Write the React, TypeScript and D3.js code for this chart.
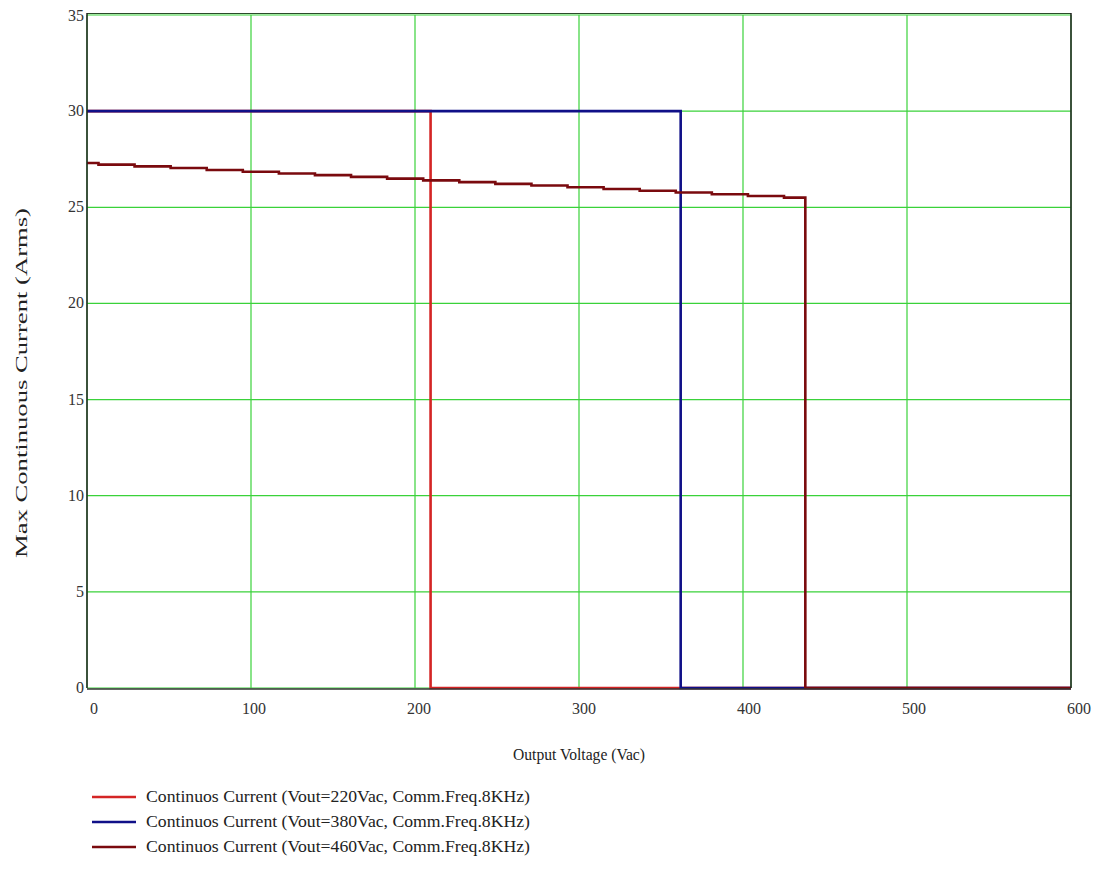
import React from 'react'
import * as d3 from 'd3'

// series: step points [voltage, current]
const redX = [0, 209.5, 209.5, 600]
const redY = [30, 30, 0, 0]
const blueX = [0, 362, 362, 600]
const blueY = [30, 30, 0, 0]
const darkX = [0, 7, 29, 51, 73, 95, 117, 139, 161, 183, 205, 227, 249, 271, 293, 315, 337, 359, 381, 403, 425, 438, 438, 600]
const darkY = [27.3, 27.22, 27.13, 27.04, 26.94, 26.85, 26.76, 26.67, 26.58, 26.49, 26.4, 26.31, 26.22, 26.13, 26.04, 25.95, 25.86, 25.77, 25.68, 25.59, 25.5, 25.5, 0, 0]

const xTicks = [0, 100, 200, 300, 400, 500, 600]
const yTicks = [0, 5, 10, 15, 20, 25, 30, 35]

const legendLabels = [
    'Continuos Current (Vout=220Vac, Comm.Freq.8KHz)',
    'Continuos Current (Vout=380Vac, Comm.Freq.8KHz)',
    'Continuos Current (Vout=460Vac, Comm.Freq.8KHz)',
]
const colors = ['#d42525', '#101088', '#7a0a0e']

const App = () => {
    const x = d3.scaleLinear().domain([0, 600]).range([87, 1071])
    const y = d3.scaleLinear().domain([0, 35]).range([688, 15])
    const line = d3.line<[number, number]>()
        .x(d => x(d[0]))
        .y(d => y(d[1]))
        .curve(d3.curveStepAfter)

    const series = [
        redX.map((v, i) => [v, redY[i]] as [number, number]),
        blueX.map((v, i) => [v, blueY[i]] as [number, number]),
        darkX.map((v, i) => [v, darkY[i]] as [number, number]),
    ]

    return (
        <svg width={1102} height={870} style={{ position: 'absolute', left: 0, top: 0, background: '#fff' }}
            fontFamily="'Liberation Serif', 'Times New Roman', serif">
            {/* grid */}
            {xTicks.map(t => (
                <line key={'gx' + t} x1={x(t)} x2={x(t)} y1={y(0)} y2={y(35)} stroke='#3ad23a' strokeWidth={1.2} />
            ))}
            {yTicks.map(t => (
                <line key={'gy' + t} x1={x(0)} x2={x(600)} y1={y(t)} y2={y(t)} stroke='#3ad23a' strokeWidth={1.2} />
            ))}
            {/* series */}
            {series.map((s, i) => (
                <path key={i} d={line(s) || ''} fill='none' stroke={colors[i]} strokeWidth={2.6} />
            ))}
            {/* frame */}
            <line x1={x(0)} x2={x(600)} y1={y(35) - 1.5} y2={y(35) - 1.5} stroke='#2a4a2a' strokeWidth={1.2} />
            <line x1={x(0)} x2={x(0)} y1={y(35) - 2} y2={y(0)} stroke='#222' strokeWidth={1.5} />
            <line x1={x(600)} x2={x(600)} y1={y(35) - 2} y2={y(0)} stroke='#222' strokeWidth={1.5} />
            <line x1={x(0)} x2={x(600)} y1={y(0) + 1} y2={y(0) + 1} stroke='#333' strokeWidth={1.5} />
            {/* tick labels */}
            {yTicks.map(t => (
                <text key={'ty' + t} x={x(0) - 3} y={y(t) + (t === 35 ? 6 : 5)} textAnchor='end' fontSize={16} fill='#333'>{t}</text>
            ))}
            {xTicks.map(t => (
                <text key={'tx' + t} x={x(t) + (t === 0 ? 7 : t / 100 + 2)} y={714} textAnchor='middle' fontSize={16} fill='#333'>{t}</text>
            ))}
            {/* axis titles */}
            <text x={579} y={760} textAnchor='middle' fontSize={16} fill='#222' textLength={132} lengthAdjust='spacingAndGlyphs'>Output Voltage (Vac)</text>
            <text transform={`translate(27,383) rotate(-90)`} textAnchor='middle' fontSize={17} fill='#222'
                textLength={350} lengthAdjust='spacingAndGlyphs'>Max Continuous Current (Arms)</text>
            {/* legend */}
            {legendLabels.map((l, i) => (
                <g key={'lg' + i} transform={`translate(0,${797 + i * 25})`}>
                    <line x1={92} x2={136} y1={0} y2={0} stroke={colors[i]} strokeWidth={2.6} />
                    <text x={146} y={5} fontSize={16} fill='#222' textLength={384} lengthAdjust='spacingAndGlyphs'>{l}</text>
                </g>
            ))}
        </svg>
    )
}

export default App
